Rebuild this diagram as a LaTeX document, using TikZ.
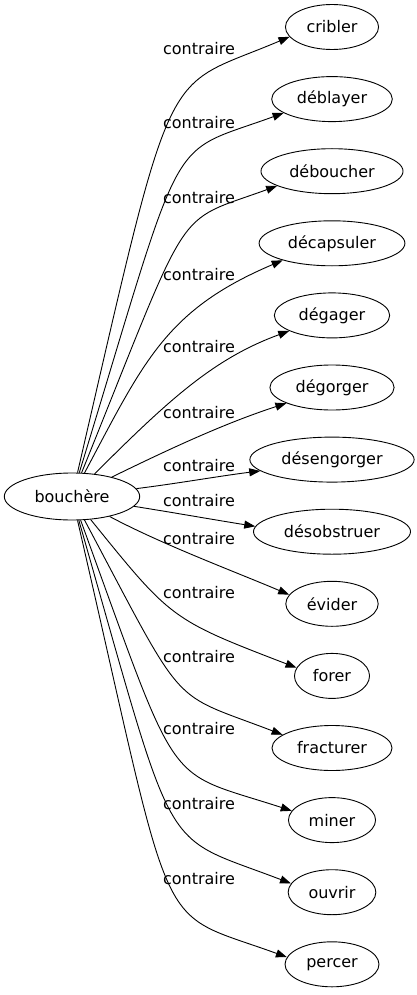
\documentclass[tikz,border=0pt]{standalone}
\usepackage{fontspec}
\setmainfont{DejaVu Sans}
\usetikzlibrary{arrows.meta, shapes.geometric, positioning}

\begin{document}
\begin{tikzpicture}[x=1pt, y=1pt, node distance=72.1pt, on grid, line width=0.9pt,
    >={Triangle[length=11pt,width=8pt]}]
  \tikzstyle{every node}=[font=\fontsize{16pt}{19pt}\selectfont]
  \tikzstyle{word}=[draw, ellipse, inner xsep=7.5pt, inner ysep=0pt, minimum height=45pt]
  \tikzstyle{rel}=[inner sep=0pt]

  \useasboundingbox (0,0) rectangle (416,-995);

  \node[word, inner xsep=10.4pt, minimum height=47pt](bouchere) at (72,-496.5){bouchère};

  \node[word](cribler) at (332,-27){cribler};
  \node[word](deblayer)[below of=cribler]{déblayer};
  \node[word](deboucher)[below of=deblayer]{déboucher};
  \node[word](decapsuler)[below of=deboucher]{décapsuler};
  \node[word](degager)[below of=decapsuler]{dégager};
  \node[word](degorger)[below of=degager]{dégorger};
  \node[word](desengorger)[below of=degorger]{désengorger};
  \node[word](desobstruer)[below of=desengorger]{désobstruer};
  \node[word](evider)[below of=desobstruer]{évider};
  \node[word](forer)[below of=evider]{forer};
  \node[word](fracturer)[below of=forer]{fracturer};
  \node[word](miner)[below of=fracturer]{miner};
  \node[word](ouvrir)[below of=miner]{ouvrir};
  \node[word](percer)[below of=ouvrir]{percer};

  % edge labels
  \node[rel](c1) at (199,-49){contraire};
  \node[rel](c2) at (199,-123){contraire};
  \node[rel](c3) at (199,-198){contraire};
  \node[rel](c4) at (199,-274.5){contraire};
  \node[rel](c5) at (199,-346.5){contraire};
  \node[rel](c6) at (199,-413){contraire};
  \node[rel](c7) at (199,-466){contraire};
  \node[rel](c8) at (199,-501){contraire};
  \node[rel](c9) at (199,-539){contraire};
  \node[rel](c10) at (199,-593){contraire};
  \node[rel](c11) at (199,-657){contraire};
  \node[rel](c12) at (199,-729){contraire};
  \node[rel](c13) at (199,-804){contraire};
  \node[rel](c14) at (199,-879){contraire};

  \path[->]
  (bouchere) edge [out=77, in=203, out distance=436pt, in distance=140pt] (cribler.193)
             edge [out=73, in=200, out distance=368pt, in distance=127pt] (deblayer.196)
             edge [out=68, in=200, out distance=298pt, in distance=112pt] (deboucher.195)
             edge [out=62, in=203, out distance=127pt, in distance=127pt] (decapsuler.199)
             edge [out=45, in=200, out distance=105pt, in distance=80pt]  (degager.200)
             edge [out=26, in=198, out distance=65pt,  in distance=65pt]  (degorger.199)
             edge [out=7,  in=187, out distance=40pt,  in distance=40pt]  (desengorger.189)
             edge [out=-9, in=171, out distance=40pt,  in distance=40pt]  (desobstruer.176)
             edge [out=-28, in=157, out distance=60pt, in distance=60pt]  (evider.168)
             edge [out=-51, in=159, out distance=128pt, in distance=135pt] (forer.167)
             edge [out=-62, in=159, out distance=220pt, in distance=123pt] (fracturer.165)
             edge [out=-70, in=162, out distance=295pt, in distance=136pt] (miner.167)
             edge [out=-74, in=159, out distance=361pt, in distance=143pt] (ouvrir.168)
             edge [out=-77, in=160, out distance=442pt, in distance=144pt] (percer.171);
\end{tikzpicture}
\end{document}
